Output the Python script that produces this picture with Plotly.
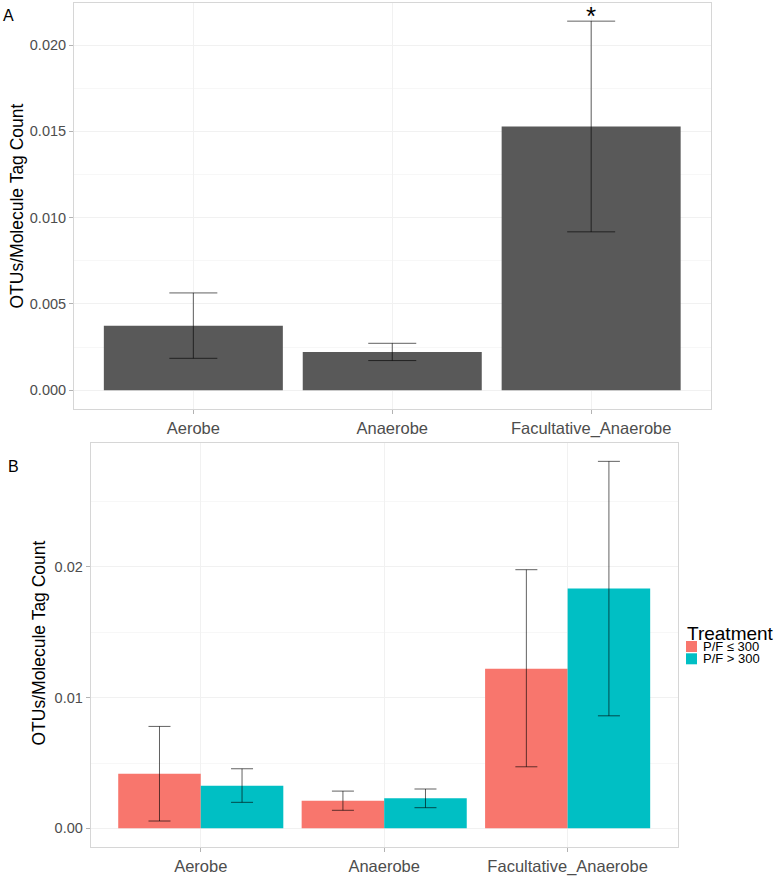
import plotly.graph_objects as go

# ---- data ----
categories = ["Aerobe", "Anaerobe", "Facultative_Anaerobe"]

# Panel A (all samples)
a_mean = [0.00374, 0.00222, 0.01528]
a_lower = [0.00185, 0.00172, 0.00918]
a_upper = [0.00564, 0.00272, 0.02139]

# Panel B (by treatment)
treatments = ["P/F \u2264 300", "P/F > 300"]
treatment_colors = ["#F8766D", "#00BFC4"]
b_low_mean = [0.00418, 0.00211, 0.01222]
b_low_lower = [0.00056, 0.00138, 0.00471]
b_low_upper = [0.00780, 0.00285, 0.01979]
b_high_mean = [0.00326, 0.00230, 0.01836]
b_high_lower = [0.00199, 0.00158, 0.00861]
b_high_upper = [0.00456, 0.00301, 0.02808]

a_yticks = [0.000, 0.005, 0.010, 0.015, 0.020]
a_yticklabels = ["0.000", "0.005", "0.010", "0.015", "0.020"]
b_yticks = [0.00, 0.01, 0.02]
b_yticklabels = ["0.00", "0.01", "0.02"]
y_title = "OTUs/Molecule Tag Count"

FONT = "Liberation Sans, Arial, Helvetica, sans-serif"
W, H = 776, 876


def plus(m, u):
    return [ui - mi for mi, ui in zip(m, u)]


def minus(m, l):
    return [mi - li for mi, li in zip(m, l)]


ERR_COLOR = "rgba(0,0,0,0.62)"

fig = go.Figure()

fig.add_trace(go.Bar(
    x=categories, y=a_mean, marker=dict(color="#595959", line=dict(width=0)),
    error_y=dict(type="data", symmetric=False, array=plus(a_mean, a_upper),
                 arrayminus=minus(a_mean, a_lower), color=ERR_COLOR,
                 thickness=1, width=24),
    xaxis="x", yaxis="y", showlegend=False,
))

fig.add_trace(go.Bar(
    x=categories, y=b_low_mean, name=treatments[0],
    marker=dict(color=treatment_colors[0], line=dict(width=0)),
    error_y=dict(type="data", symmetric=False, array=plus(b_low_mean, b_low_upper),
                 arrayminus=minus(b_low_mean, b_low_lower), color=ERR_COLOR,
                 thickness=1, width=11),
    xaxis="x2", yaxis="y2", offsetgroup="low", showlegend=False,
))
fig.add_trace(go.Bar(
    x=categories, y=b_high_mean, name=treatments[1],
    marker=dict(color=treatment_colors[1], line=dict(width=0)),
    error_y=dict(type="data", symmetric=False, array=plus(b_high_mean, b_high_upper),
                 arrayminus=minus(b_high_mean, b_high_lower), color=ERR_COLOR,
                 thickness=1, width=11),
    xaxis="x2", yaxis="y2", offsetgroup="high", showlegend=False,
))


def px_x(p):
    return p / W


def px_y(p):
    return 1 - p / H


GRID = "#f1f1f1"
BORDER = "#d6d6d6"

axis_common = dict(showline=True, mirror=True, linecolor=BORDER, linewidth=1,
                   zeroline=False, ticks="outside", ticklen=4, tickcolor="#b3b3b3",
                   gridcolor=GRID, gridwidth=1)

a_max = max(a_upper)
b_max = max(max(b_low_upper), max(b_high_upper))

# manual legend (ggplot-style compact keys)
legend_shapes = []
legend_annots = [
    dict(text="Treatment", x=px_x(685), y=px_y(633), xref="paper", yref="paper",
         xanchor="left", yanchor="middle", showarrow=False, font=dict(size=19)),
]
for i, (name, col) in enumerate(zip(treatments, treatment_colors)):
    top = 641 + i * 12.3
    legend_shapes.append(dict(type="rect", xref="paper", yref="paper",
                              x0=px_x(686), x1=px_x(697), y0=px_y(top + 11), y1=px_y(top),
                              fillcolor=col, line=dict(width=0)))
    legend_annots.append(dict(text=name, x=px_x(701), y=px_y(top + 5.5), xref="paper",
                              yref="paper", xanchor="left", yanchor="middle",
                              showarrow=False, font=dict(size=13)))

title_annots = [
    dict(text=y_title, x=px_x(16.5), y=px_y(206), xref="paper", yref="paper",
         xanchor="center", yanchor="middle", textangle=-90, showarrow=False,
         font=dict(size=17.5)),
    dict(text=y_title, x=px_x(38.5), y=px_y(643), xref="paper", yref="paper",
         xanchor="center", yanchor="middle", textangle=-90, showarrow=False,
         font=dict(size=17.5)),
]

fig.update_layout(
    width=W, height=H,
    margin=dict(l=0, r=0, t=0, b=0),
    paper_bgcolor="white", plot_bgcolor="white",
    barmode="group", bargap=0.1, bargroupgap=0,
    font=dict(family=FONT, color="#000000"),
    showlegend=False,
    xaxis=dict(domain=[px_x(74), px_x(710.5)], anchor="y", type="category",
               range=[-0.6, 2.6], showgrid=True,
               tickfont=dict(size=16.5, color="#4d4d4d"), **axis_common),
    yaxis=dict(domain=[px_y(408.7), px_y(2.7)], anchor="x",
               range=[-0.05 * a_max, 1.05 * a_max],
               tickvals=a_yticks, ticktext=a_yticklabels, showgrid=True,
               minor=dict(dtick=0.0025, tick0=0, showgrid=True, gridcolor="#f7f7f7", ticks=""),
               tickfont=dict(size=14.5, color="#4d4d4d"),
               **axis_common),
    xaxis2=dict(domain=[px_x(90.7), px_x(677.7)], anchor="y2", type="category",
                range=[-0.6, 2.6], showgrid=True,
                tickfont=dict(size=16.5, color="#4d4d4d"), **axis_common),
    yaxis2=dict(domain=[px_y(846.7), px_y(443)], anchor="x2",
                range=[-0.05 * b_max, 1.05 * b_max],
                tickvals=b_yticks, ticktext=b_yticklabels, showgrid=True,
                minor=dict(dtick=0.005, tick0=0, showgrid=True, gridcolor="#f7f7f7", ticks=""),
                tickfont=dict(size=14.5, color="#4d4d4d"),
                **axis_common),
    shapes=legend_shapes,
    annotations=[
        dict(text="A", x=px_x(8), y=px_y(15.5), xref="paper", yref="paper",
             xanchor="center", yanchor="middle", showarrow=False, font=dict(size=16)),
        dict(text="B", x=px_x(13), y=px_y(466), xref="paper", yref="paper",
             xanchor="center", yanchor="middle", showarrow=False, font=dict(size=16)),
        dict(text="*", x=categories[2], y=a_upper[2], xref="x", yref="y",
             xanchor="center", yanchor="middle", yshift=5, showarrow=False,
             font=dict(size=26)),
    ] + title_annots + legend_annots,
)

# remove the browser's default 8px body margin so the figure sits at the page origin
fig.write_html("out.html", config={"displayModeBar": False},
               post_script="document.body.style.margin='0';")
